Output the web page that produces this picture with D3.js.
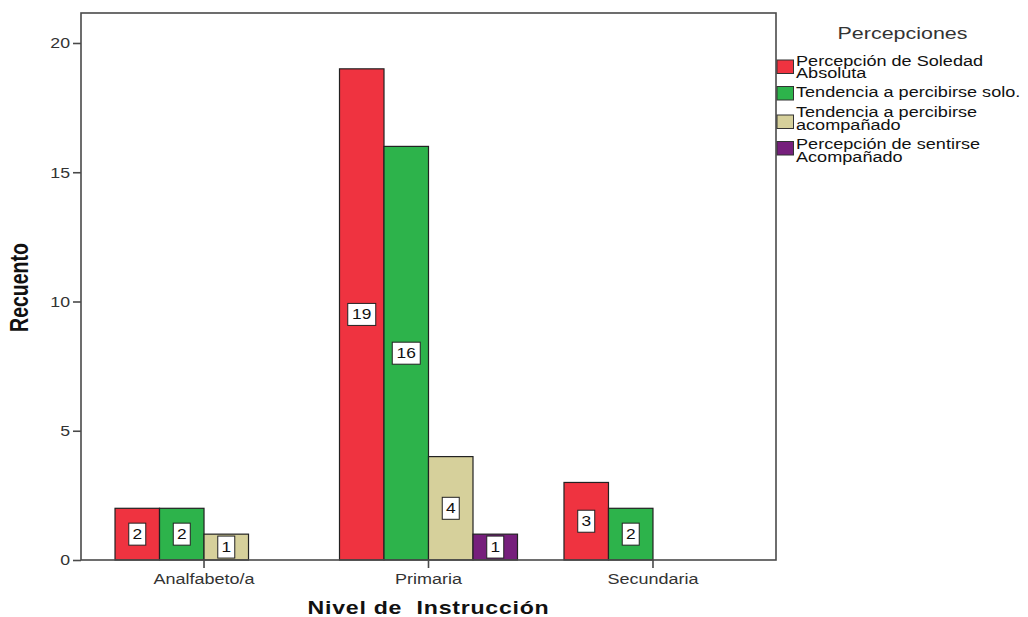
<!DOCTYPE html>
<html>
<head>
<meta charset="utf-8">
<script src="https://cdn.jsdelivr.net/npm/d3@7"></script>
<style>
  html, body { margin: 0; padding: 0; background: #fff; }
  svg { display: block; font-family: Arial, "Liberation Sans", sans-serif; }
</style>
</head>
<body>
<svg id="chart" width="1028" height="617"></svg>
<script>
// Nivel de instrucción (eje X)
const categories = ["Analfabeto/a", "Primaria", "Secundaria"];

// Percepciones (series)
const seriesNames = [
  "Percepción de Soledad Absoluta",
  "Tendencia a percibirse solo.",
  "Tendencia a percibirse acompañado",
  "Percepción de sentirse Acompañado"
];
const legendLines = [
  ["Percepción de Soledad", "Absoluta"],
  ["Tendencia a percibirse solo."],
  ["Tendencia a percibirse", "acompañado"],
  ["Percepción de sentirse", "Acompañado"]
];
const seriesColors = ["#ef3340", "#2db34b", "#d6d09b", "#761f7c"];

// Recuento por serie y categoría (null = sin casos)
const soledadAbsoluta = [2, 19, 3];
const tendenciaSolo = [2, 16, 2];
const tendenciaAcompanado = [1, 4, null];
const sentirseAcompanado = [null, 1, null];
const seriesValues = [soledadAbsoluta, tendenciaSolo, tendenciaAcompanado, sentirseAcompanado];

const yTicks = [0, 5, 10, 15, 20];

// Texto ensanchado horizontalmente
const SX = 1.24;

const svg = d3.select("#chart");
const plot = { left: 81, right: 776, top: 13, bottom: 560 };

const y = d3.scaleLinear().domain([0, 21.16]).range([plot.bottom, plot.top]);
const x = d3.scaleBand().domain(categories)
  .range([plot.left, plot.right]).paddingInner(0).paddingOuter(0.048);
const xs = d3.scaleBand().domain(d3.range(seriesNames.length))
  .range([-89, 89]);

// Barras
const bars = [];
seriesValues.forEach((vals, si) => {
  vals.forEach((v, ci) => {
    if (v != null) bars.push({ si, ci, v });
  });
});

const cx = c => x(c) + x.bandwidth() / 2;

svg.append("g").selectAll("rect").data(bars).join("rect")
  .attr("x", d => cx(categories[d.ci]) + xs(d.si))
  .attr("y", d => y(d.v))
  .attr("width", xs.bandwidth())
  .attr("height", d => y(0) - y(d.v))
  .attr("fill", d => seriesColors[d.si])
  .attr("stroke", "#222")
  .attr("stroke-width", 1.2);

// Etiquetas de valor
const lab = svg.append("g").selectAll("g").data(bars).join("g")
  .attr("transform", d => `translate(${cx(categories[d.ci]) + xs(d.si) + xs.bandwidth() / 2},${y(d.v / 2)})`);
lab.append("rect")
  .attr("x", d => String(d.v).length > 1 ? -14 : -8.5)
  .attr("y", -11)
  .attr("width", d => String(d.v).length > 1 ? 28 : 17)
  .attr("height", 22)
  .attr("fill", "#fff")
  .attr("stroke", "#222")
  .attr("stroke-width", 1);
lab.append("text")
  .attr("text-anchor", "middle")
  .attr("dy", "0.36em")
  .attr("font-size", 14)
  .attr("fill", "#111")
  .attr("transform", `scale(${SX},1)`)
  .text(d => d.v);

// Marco del gráfico
svg.append("rect")
  .attr("x", plot.left).attr("y", plot.top)
  .attr("width", plot.right - plot.left)
  .attr("height", plot.bottom - plot.top)
  .attr("fill", "none")
  .attr("stroke", "#4a4a4a")
  .attr("stroke-width", 1.6);

// Eje Y
const yAxis = svg.append("g")
  .attr("transform", `translate(${plot.left},0)`)
  .call(d3.axisLeft(y).tickValues(yTicks).tickSize(8).tickPadding(3));
yAxis.select(".domain").remove();
yAxis.selectAll("line").attr("stroke", "#4a4a4a").attr("stroke-width", 1.6);
yAxis.selectAll("text")
  .attr("x", 0)
  .attr("transform", `translate(-11,0) scale(1.18,1)`)
  .attr("font-size", 15).attr("fill", "#333")
  .attr("font-family", "Arial, 'Liberation Sans', sans-serif");

// Eje X
const xAxis = svg.append("g")
  .attr("transform", `translate(0,${plot.bottom})`)
  .call(d3.axisBottom(x).tickSize(8).tickPadding(5));
xAxis.select(".domain").remove();
xAxis.selectAll("line").attr("stroke", "#4a4a4a").attr("stroke-width", 1.6);
xAxis.selectAll("text")
  .attr("transform", `scale(1.2,1)`)
  .attr("font-size", 15).attr("fill", "#333")
  .attr("font-family", "Arial, 'Liberation Sans', sans-serif");

// Títulos de ejes
svg.append("text")
  .attr("transform", `translate(28,${(plot.top + plot.bottom) / 2 + 1}) scale(1.28,1) rotate(-90)`)
  .attr("text-anchor", "middle")
  .attr("font-size", 19.5)
  .attr("font-weight", "bold")
  .attr("fill", "#111")
  .text("Recuento");

svg.append("text")
  .attr("transform", `translate(428.5,614) scale(1.25,1)`)
  .attr("text-anchor", "middle")
  .attr("font-size", 18.5)
  .attr("font-weight", "bold")
  .attr("letter-spacing", 0.6)
  .attr("fill", "#111")
  .attr("xml:space", "preserve")
  .style("white-space", "pre")
  .text("Nivel de  Instrucción");

// Leyenda
const legend = svg.append("g");
legend.append("text")
  .attr("transform", `translate(902.5,39) scale(1.3,1)`)
  .attr("text-anchor", "middle")
  .attr("font-size", 16.5)
  .attr("fill", "#333")
  .text("Percepciones");

const swatchTop = [60, 86.5, 115, 141.5];
const firstBaseline = [65.5, 96.5, 117, 149];
const lineStep = 12.8;

const items = legend.selectAll("g.item").data(seriesNames).join("g")
  .attr("class", "item");
items.append("rect")
  .attr("x", 777).attr("y", (d, i) => swatchTop[i])
  .attr("width", 16.5).attr("height", 13.5)
  .attr("fill", (d, i) => seriesColors[i])
  .attr("stroke", "#333").attr("stroke-width", 1);
items.each(function (d, i) {
  const g = d3.select(this);
  legendLines[i].forEach((line, li) => {
    g.append("text")
      .attr("transform", `translate(796,${firstBaseline[i] + li * lineStep}) scale(1.24,1)`)
      .attr("font-size", 14.6)
      .attr("fill", "#111")
      .text(line);
  });
});
</script>
</body>
</html>
